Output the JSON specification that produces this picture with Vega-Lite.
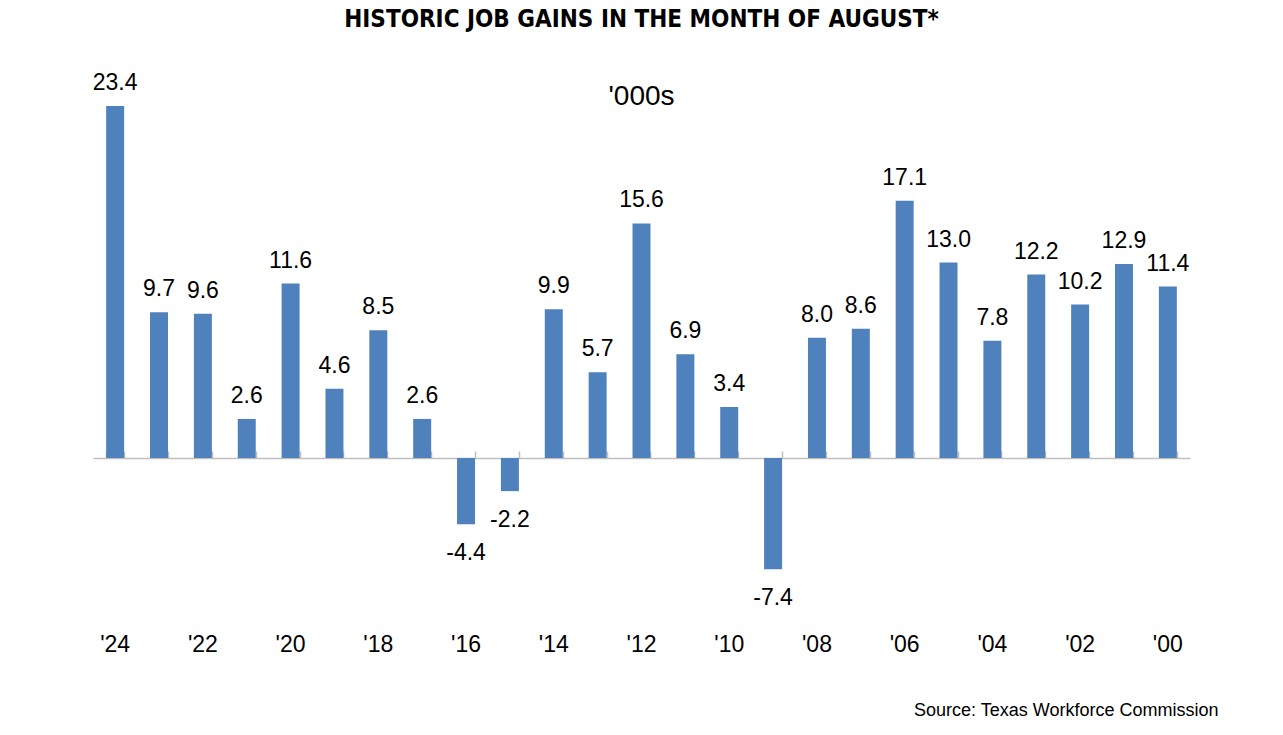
{
  "$schema": "https://vega.github.io/schema/vega-lite/v6.json",
  "autosize": "none",
  "width": 1097,
  "height": 541.5,
  "padding": {"left": 93, "top": 82, "right": 93, "bottom": 111},
  "background": "white",
  "title": {
    "text": "HISTORIC JOB GAINS IN THE MONTH OF AUGUST*",
    "subtitle": "'000s",
    "font": "DejaVu Sans Condensed",
    "fontWeight": "bold",
    "fontSize": 24,
    "color": "black",
    "subtitleFont": "Liberation Sans",
    "subtitleFontSize": 28,
    "subtitleColor": "black",
    "subtitlePadding": 51,
    "anchor": "middle",
    "offset": -39
  },
  "data": {
    "values": [
      {"year": "'24", "value": 23.4},
      {"year": "'23", "value": 9.7},
      {"year": "'22", "value": 9.6},
      {"year": "'21", "value": 2.6},
      {"year": "'20", "value": 11.6},
      {"year": "'19", "value": 4.6},
      {"year": "'18", "value": 8.5},
      {"year": "'17", "value": 2.6},
      {"year": "'16", "value": -4.4},
      {"year": "'15", "value": -2.2},
      {"year": "'14", "value": 9.9},
      {"year": "'13", "value": 5.7},
      {"year": "'12", "value": 15.6},
      {"year": "'11", "value": 6.9},
      {"year": "'10", "value": 3.4},
      {"year": "'09", "value": -7.4},
      {"year": "'08", "value": 8.0},
      {"year": "'07", "value": 8.6},
      {"year": "'06", "value": 17.1},
      {"year": "'05", "value": 13.0},
      {"year": "'04", "value": 7.8},
      {"year": "'03", "value": 12.2},
      {"year": "'02", "value": 10.2},
      {"year": "'01", "value": 12.9},
      {"year": "'00", "value": 11.4}
    ]
  },
  "layer": [
    {
      "mark": {"type": "bar", "color": "#4f81bd"},
      "encoding": {
        "x": {
          "field": "year", "type": "nominal", "sort": null,
          "scale": {"paddingInner": 0.59, "paddingOuter": 0.3},
          "axis": {
            "orient": "top", "offset": -376, "title": null, "labels": false,
            "domainColor": "#bfbfbf", "domainWidth": 1.5,
            "ticks": true, "tickBand": "extent", "tickColor": "#bfbfbf", "tickSize": 7, "tickWidth": 1.5
          }
        },
        "y": {
          "field": "value", "type": "quantitative",
          "scale": {"domain": [-11, 25], "nice": false, "zero": false},
          "axis": null
        }
      }
    },
    {
      "transform": [{"filter": "datum.value >= 0"}],
      "mark": {"type": "text", "baseline": "alphabetic", "dy": -16, "font": "Liberation Sans", "fontSize": 23, "color": "black"},
      "encoding": {
        "x": {
          "field": "year", "type": "nominal", "sort": null,
          "axis": {
            "orient": "bottom", "title": "Source: Texas Workforce Commission",
            "values": ["'24", "'22", "'20", "'18", "'16", "'14", "'12", "'10", "'08", "'06", "'04", "'02", "'00"],
            "domain": false, "ticks": false, "labelAngle": 0,
            "labelFont": "Liberation Sans", "labelFontSize": 23, "labelColor": "black", "labelPadding": 10,
            "titleFont": "Liberation Sans", "titleFontSize": 18, "titleFontWeight": "normal", "titleColor": "black",
            "titleAnchor": "end", "titleAlign": "right", "titleBaseline": "middle", "titleX": 1125, "titleY": 87
          }
        },
        "y": {"field": "value", "type": "quantitative"},
        "text": {"field": "value", "type": "quantitative", "format": ".1f"}
      }
    },
    {
      "transform": [{"filter": "datum.value < 0"}],
      "mark": {"type": "text", "baseline": "alphabetic", "dy": 36, "font": "Liberation Sans", "fontSize": 23, "color": "black"},
      "encoding": {
        "x": {"field": "year", "type": "nominal", "sort": null, "axis": null},
        "y": {"field": "value", "type": "quantitative"},
        "text": {"field": "value", "type": "quantitative", "format": ".1f"}
      }
    }
  ],
  "resolve": {"axis": {"x": "independent"}},
  "config": {
    "view": {"stroke": null},
    "locale": {
      "number": {"decimal": ".", "thousands": ",", "grouping": [3], "currency": ["$", ""], "minus": "-"}
    }
  }
}
